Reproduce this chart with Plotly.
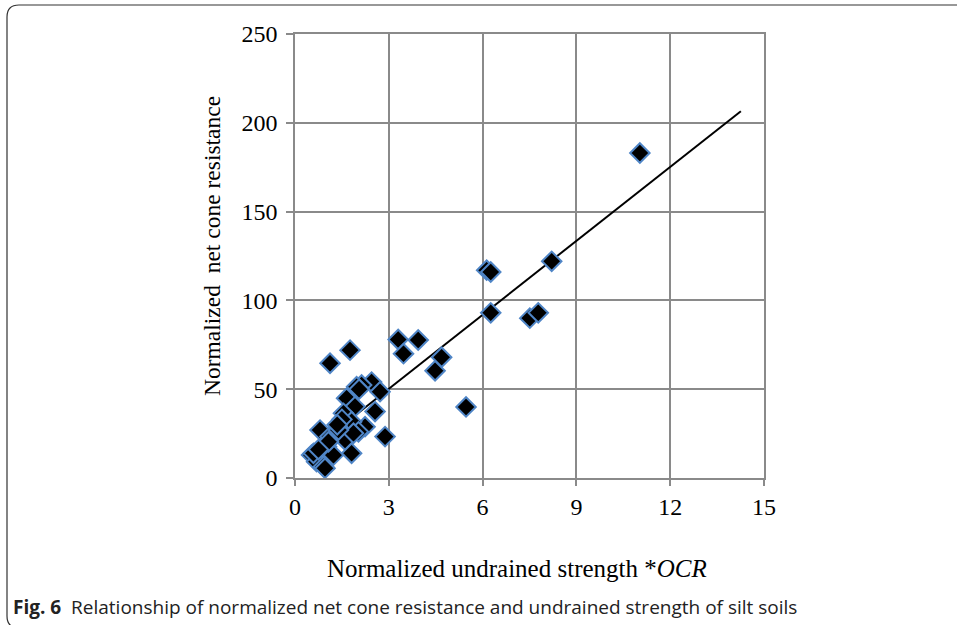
import plotly.graph_objects as go

# Data
x_vals = [11.03, 6.13, 6.26, 8.21, 6.26, 7.51, 7.78, 3.30, 3.94, 3.47, 4.69, 4.48, 5.47,
          1.12, 1.76, 2.45, 2.13, 1.97, 2.05, 2.72, 1.65, 1.92, 2.56, 1.55, 0.80, 1.44,
          2.24, 1.81, 2.03, 2.88, 1.12, 1.28, 1.60, 1.01, 0.53, 1.81, 1.23, 0.69, 0.91,
          0.96, 1.07, 1.87, 1.39, 0.59, 0.75, 1.50, 1.35]
y_vals = [183.0, 117.0, 116.0, 122.0, 93.0, 90.0, 93.0, 78.0, 77.7, 70.0, 68.0, 60.4, 40.0,
          64.6, 72.0, 54.0, 52.4, 51.4, 50.0, 48.6, 44.9, 40.2, 37.4, 36.4, 27.0, 28.0,
          28.9, 31.7, 26.0, 23.3, 23.3, 24.0, 21.4, 17.6, 12.9, 13.9, 12.9, 9.2, 6.4,
          5.5, 20.4, 25.2, 27.0, 13.9, 16.0, 33.0, 30.0]

trend_x = [0.6, 14.26]
trend_slope = 13.88
trend_intercept = 8.6
trend_y = [trend_slope * v + trend_intercept for v in trend_x]

x_ticks = [0, 3, 6, 9, 12, 15]
y_ticks = [0, 50, 100, 150, 200, 250]

x_title = "Normalized undrained strength *<i>OCR</i>"
y_title = "Normalized  net cone resistance"
caption = "<b>Fig. 6</b>  Relationship of normalized net cone resistance and undrained strength of silt soils"

W, H = 957, 625
ML, MR, MT, MB = 295, 193, 34, 147
PW, PH = W - ML - MR, H - MT - MB


def px(xp):
    return (xp - ML) / PW


def py(yp):
    return (H - MB - yp) / PH


GRID = "#8a8a8a"
SERIF = "Liberation Serif, Times New Roman, serif"

fig = go.Figure()
fig.add_trace(go.Scatter(x=trend_x, y=trend_y, mode="lines",
                         line=dict(color="black", width=2), showlegend=False, hoverinfo="skip"))
fig.add_trace(go.Scatter(x=x_vals, y=y_vals, mode="markers",
                         marker=dict(symbol="diamond", size=15, color="black",
                                     line=dict(color="#4f85c6", width=2)),
                         showlegend=False))

fig.update_xaxes(range=[0, 15], tickvals=x_ticks, showgrid=True, gridcolor=GRID, gridwidth=1.5,
                 showline=True, linecolor=GRID, linewidth=1.5, mirror=True, zeroline=False,
                 ticks="outside", ticklen=6, tickcolor=GRID, tickwidth=1.5,
                 ticklabelstandoff=0,
                 tickfont=dict(family=SERIF, size=24, color="black"))
fig.update_yaxes(range=[0, 250], tickvals=y_ticks, showgrid=True, gridcolor=GRID, gridwidth=1.5,
                 showline=True, linecolor=GRID, linewidth=1.5, mirror=True, zeroline=False,
                 ticks="outside", ticklen=7, tickcolor=GRID, tickwidth=1.5,
                 ticklabelstandoff=4,
                 tickfont=dict(family=SERIF, size=24, color="black"))

# frame path with rounded corners (pixel -> paper)
r = 12
x0, x1, y0, y1 = 7, 970, 5, 628
path = (f"M {px(x0)},{py(y1 - r)} L {px(x0)},{py(y0 + r)} "
        f"Q {px(x0)},{py(y0)} {px(x0 + r)},{py(y0)} L {px(x1)},{py(y0)} "
        f"M {px(x0)},{py(y1 - r)} Q {px(x0)},{py(y1)} {px(x0 + r)},{py(y1)} L {px(x1)},{py(y1)}")
fig.add_shape(type="path", path=path, xref="paper", yref="paper",
              line=dict(color="#333333", width=1.2))

fig.add_annotation(text=x_title, x=px(517), y=py(568), xref="paper", yref="paper",
                   showarrow=False, xanchor="center", yanchor="middle",
                   font=dict(family=SERIF, size=25, color="black"))
fig.add_annotation(text=y_title, x=px(212), y=py(246), xref="paper", yref="paper",
                   showarrow=False, xanchor="center", yanchor="middle", textangle=-90,
                   font=dict(family=SERIF, size=23.5, color="black"))
fig.add_annotation(text=caption, x=px(11), y=py(607), xref="paper", yref="paper",
                   showarrow=False, xanchor="left", yanchor="middle",
                   font=dict(family="Open Sans, Noto Sans, sans-serif", size=19, color="#222222"))

fig.update_layout(width=W, height=H, margin=dict(l=ML, r=MR, t=MT, b=MB),
                  plot_bgcolor="white", paper_bgcolor="white")

fig.write_html("out.html")
